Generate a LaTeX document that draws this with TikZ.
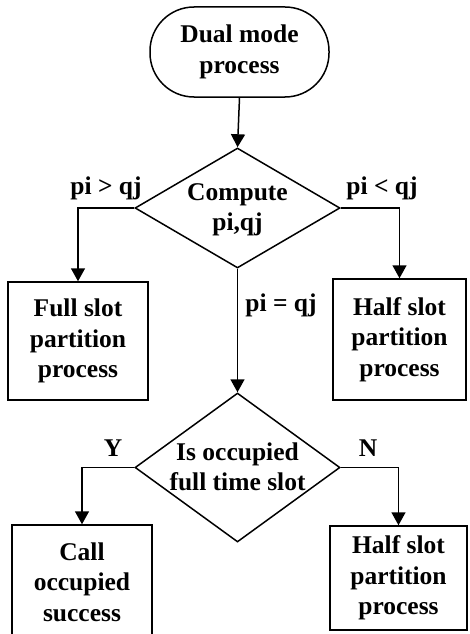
\documentclass[tikz,border=0pt]{standalone}
\usepackage{fontspec}
\setmainfont{Liberation Serif}
\usetikzlibrary{arrows.meta,shapes.geometric}
\begin{document}
\begin{tikzpicture}[x=1pt,y=-1pt,
  every node/.style={font=\fontsize{25.5}{30.5}\selectfont\bfseries, align=center},
  term/.style={draw, line width=1.5pt, rounded corners=44pt, minimum width=179pt, minimum height=90pt, inner sep=0pt},
  procbox/.style={draw, line width=1.5pt, inner sep=0pt},
  decision/.style={draw, line width=1.5pt, diamond, inner sep=0pt},
  lbl/.style={inner sep=0pt},
  conn/.style={line width=1.5pt, -{Triangle[length=13pt,width=14pt]}}]
\useasboundingbox (0,0) rectangle (469,634);
\clip (0,0) rectangle (469,634);
\node[term] (start) at (239.5,52) {Dual mode\\process};
\node[decision, minimum width=205pt, minimum height=120pt] (d1) at (237.5,208) {};
\node[lbl] (t1) at (237.5,210) {Compute\\pi,qj};
\node[procbox, minimum width=140pt, minimum height=118pt] (b1) at (78,341) {Full slot\\partition\\process};
\node[procbox, minimum width=133pt, minimum height=121pt] (b2) at (399.5,339.5) {Half slot\\partition\\process};
\node[decision, minimum width=205pt, minimum height=149pt] (d2) at (237.5,467.5) {};
\node[lbl] (t2) at (237.5,467) {Is occupied\\full time slot};
\node[procbox, minimum width=140pt, minimum height=114pt] (b3) at (82,582) {Call\\occupied\\success};
\node[procbox, minimum width=137pt, minimum height=104pt] (b4) at (398.5,578) {Half slot\\partition\\process};
\node[lbl] (l1) at (106,188) {pi > qj};
\node[lbl] (l2) at (382,188) {pi < qj};
\node[lbl] (l3) at (281,305) {pi = qj};
\node[lbl] (l4) at (113,448) {Y};
\node[lbl] (l5) at (368,448) {N};
\draw[conn] (start.south) -- (d1.north);
\draw[conn] (d1.west) -| (b1.north);
\draw[conn] (d1.east) -| (b2.north);
\draw[conn] (d1.south) -- (d2.north);
\draw[conn] (d2.west) -| (b3.north);
\draw[conn] (d2.east) -| (b4.north);
\end{tikzpicture}
\end{document}
